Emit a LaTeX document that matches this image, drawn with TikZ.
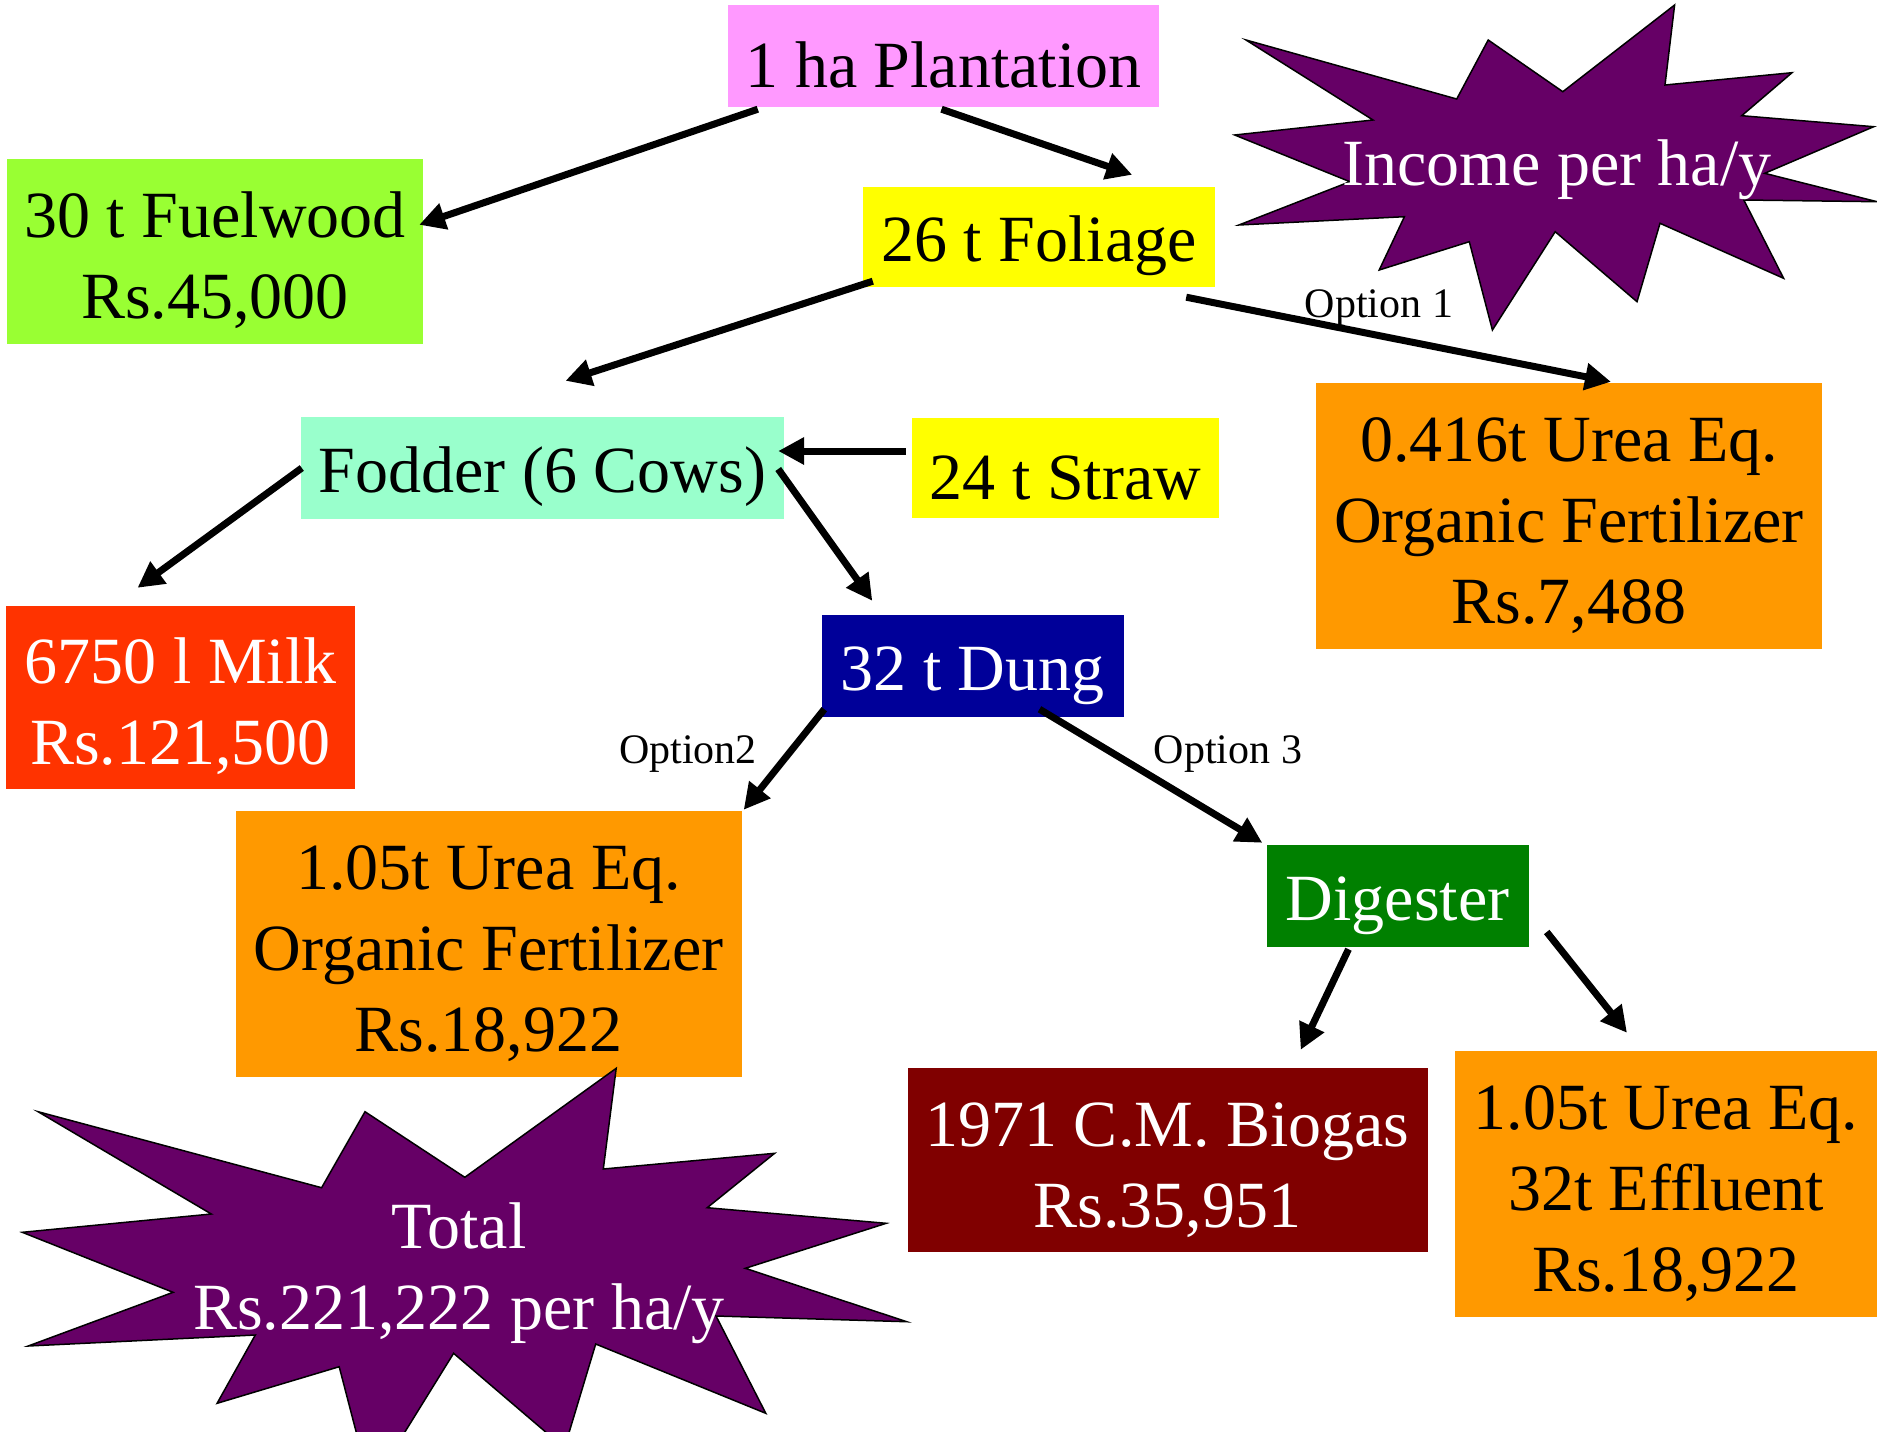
\documentclass[tikz,border=0pt]{standalone}
\usepackage{fontspec}
\setmainfont{Liberation Serif}
\usetikzlibrary{arrows.meta,calc}
\definecolor{cpink}{HTML}{FF99FF}
\definecolor{cgreen}{HTML}{99FF33}
\definecolor{cyellow}{HTML}{FFFF00}
\definecolor{caqua}{HTML}{99FFCC}
\definecolor{corange}{HTML}{FF9900}
\definecolor{cred}{HTML}{FF3300}
\definecolor{cnavy}{HTML}{000099}
\definecolor{cdgreen}{HTML}{008000}
\definecolor{cmaroon}{HTML}{800000}
\definecolor{cpurple}{HTML}{660066}
\newcommand{\topstrut}{\rule{0pt}{64pt}}
\begin{document}
\begin{tikzpicture}[x=1pt,y=-1pt,
  box/.style={rectangle, inner sep=0pt, align=center, font=\fontsize{66}{81}\selectfont,
    execute at begin node={\rule{0pt}{64pt}}},
  boxlow/.style={box, execute at begin node={\rule{0pt}{#1}}},
  flow/.style={line width=7pt, -{Triangle[length=26pt,width=26pt]}},
  opt/.style={font=\fontsize{42}{50}\selectfont, inner sep=0pt, anchor=base},
  burst/.style={fill=cpurple, draw=black, line width=1.5pt, line join=miter},
  bursttext/.style={text=white, inner sep=0pt, align=center, font=\fontsize{66}{81}\selectfont}]
\useasboundingbox (0,0) rectangle (1877,1432);
\fill[white] (0,0) rectangle (1877,1432);

% boxes
\node[boxlow=53pt, fill=cpink, minimum width=431pt, minimum height=102pt] (plant) at (943.5,56) {1 ha Plantation};
\node[box, fill=cgreen, minimum width=416pt, minimum height=185pt] (fuel) at (215,251.5) {\topstrut 30 t Fuelwood\\Rs.45,000};
\node[box, fill=cyellow, minimum width=352pt, minimum height=100pt] (foliage) at (1039,237) {26 t Foliage};
\node[box, fill=caqua, minimum width=483pt, minimum height=102pt] (fodder) at (542.5,468) {Fodder (6 Cows)};
\node[boxlow=56pt, fill=cyellow, minimum width=307pt, minimum height=100pt] (straw) at (1065.5,468) {24 t Straw};
\node[box, fill=corange, minimum width=506pt, minimum height=266pt] (urea1) at (1569,516) {\topstrut 0.416t Urea Eq.\\Organic Fertilizer\\Rs.7,488};
\node[box, fill=cred, text=white, minimum width=349pt, minimum height=183pt] (milk) at (180.5,697.5) {\topstrut 6750 l Milk\\Rs.121,500};
\node[box, fill=cnavy, text=white, minimum width=302pt, minimum height=102pt] (dung) at (972.5,666) {32 t Dung};
\node[box, fill=corange, minimum width=506pt, minimum height=266pt] (urea2) at (488.5,944) {\topstrut 1.05t Urea Eq.\\Organic Fertilizer\\Rs.18,922};
\node[box, fill=cdgreen, text=white, minimum width=262pt, minimum height=102pt] (digester) at (1397.5,896) {Digester};
\node[box, fill=cmaroon, text=white, minimum width=520pt, minimum height=184pt] (biogas) at (1167.5,1160) {\topstrut 1971 C.M. Biogas\\Rs.35,951};
\node[box, fill=corange, minimum width=422pt, minimum height=266pt] (urea3) at (1666,1184) {\topstrut 1.05t Urea Eq.\\32t Effluent\\Rs.18,922};

% option labels
\node[opt] (opt1) at (1379,317) {Option 1};
\node[opt] (opt2) at (688,763) {Option2};
\node[opt] (opt3) at (1228,763) {Option 3};

% connectors
\draw[flow] ($(plant.south west)+(30,2)$) -- ($(fuel.north east)+(-4,66)$);
\draw[flow] ($(plant.south)+(-2,2)$) -- ($(foliage.north east)+(-83,-12)$);
\draw[flow] ($(foliage.south west)+(10,-6)$) -- ($(fodder.north)+(23,-36)$);
\draw[flow] ($(foliage.south east)+(-29,10)$) -- ($(urea1.north)+(42,-1)$);
\draw[flow] ($(straw.west)+(-6,-17)$) -- ($(fodder.east)+(-6,-17)$);
\draw[flow] ($(fodder.west)+(1,0)$) -- ($(milk.north)+(-43,-18)$);
\draw[flow] ($(fodder.east)+(-6,1)$) -- ($(dung.north west)+(51,-14)$);
\draw[flow] ($(dung.south west)+(3,-8)$) -- ($(urea2.north east)+(2,-1)$);
\draw[flow] ($(dung.south)+(67,-8)$) -- ($(digester.north west)+(-4,-2)$);
\draw[flow] ($(digester.south)+(-49,2)$) -- ($(biogas.north east)+(-127,-18)$);
\draw[flow] ($(digester.east)+(18,36)$) -- ($(urea3.north)+(-39,-18)$);

% starbursts
\begin{scope}
\clip (0,0) rectangle (1877,1432);
\draw[burst] (1246,40) -- (1456.7,99) -- (1488.2,40) -- (1562.8,91.7) -- (1674.6,5) -- (1665,85) -- (1792,72.7) -- (1741.7,115.7) -- (1873.7,126.7) -- (1764.7,173.3) -- (1877,201.7) -- (1743.8,200) -- (1783.6,278.3) -- (1660,223.3) -- (1637,301.7) -- (1555.2,231.7) -- (1492.4,330) -- (1469.3,241.7) -- (1379.2,270) -- (1404.4,216.7) -- (1238.9,225) -- (1349.9,181.7) -- (1234.7,135) -- (1373,120) -- cycle;
\draw[burst] (38.1,1111.7) -- (321.6,1187.7) -- (365,1111.7) -- (464.8,1177.3) -- (616.2,1068.3) -- (603.3,1169) -- (774.6,1153.3) -- (707.2,1207.7) -- (886.2,1223.3) -- (745.3,1268.3) -- (906.7,1321.7) -- (716,1316) -- (765.8,1413.3) -- (595.7,1344) -- (564.4,1448) -- (453.6,1353.3) -- (370.6,1487.4) -- (339.2,1366.7) -- (217.1,1403.3) -- (255.3,1335) -- (28.2,1346) -- (173.1,1292.3) -- (22.3,1232.3) -- (211.3,1214) -- cycle;
\end{scope}
\node[bursttext, anchor=base] (income) at (1557,185) {Income per ha/y};
\node[bursttext] (total) at (459,1273) {Total\\Rs.221,222 per ha/y};
\end{tikzpicture}
\end{document}
